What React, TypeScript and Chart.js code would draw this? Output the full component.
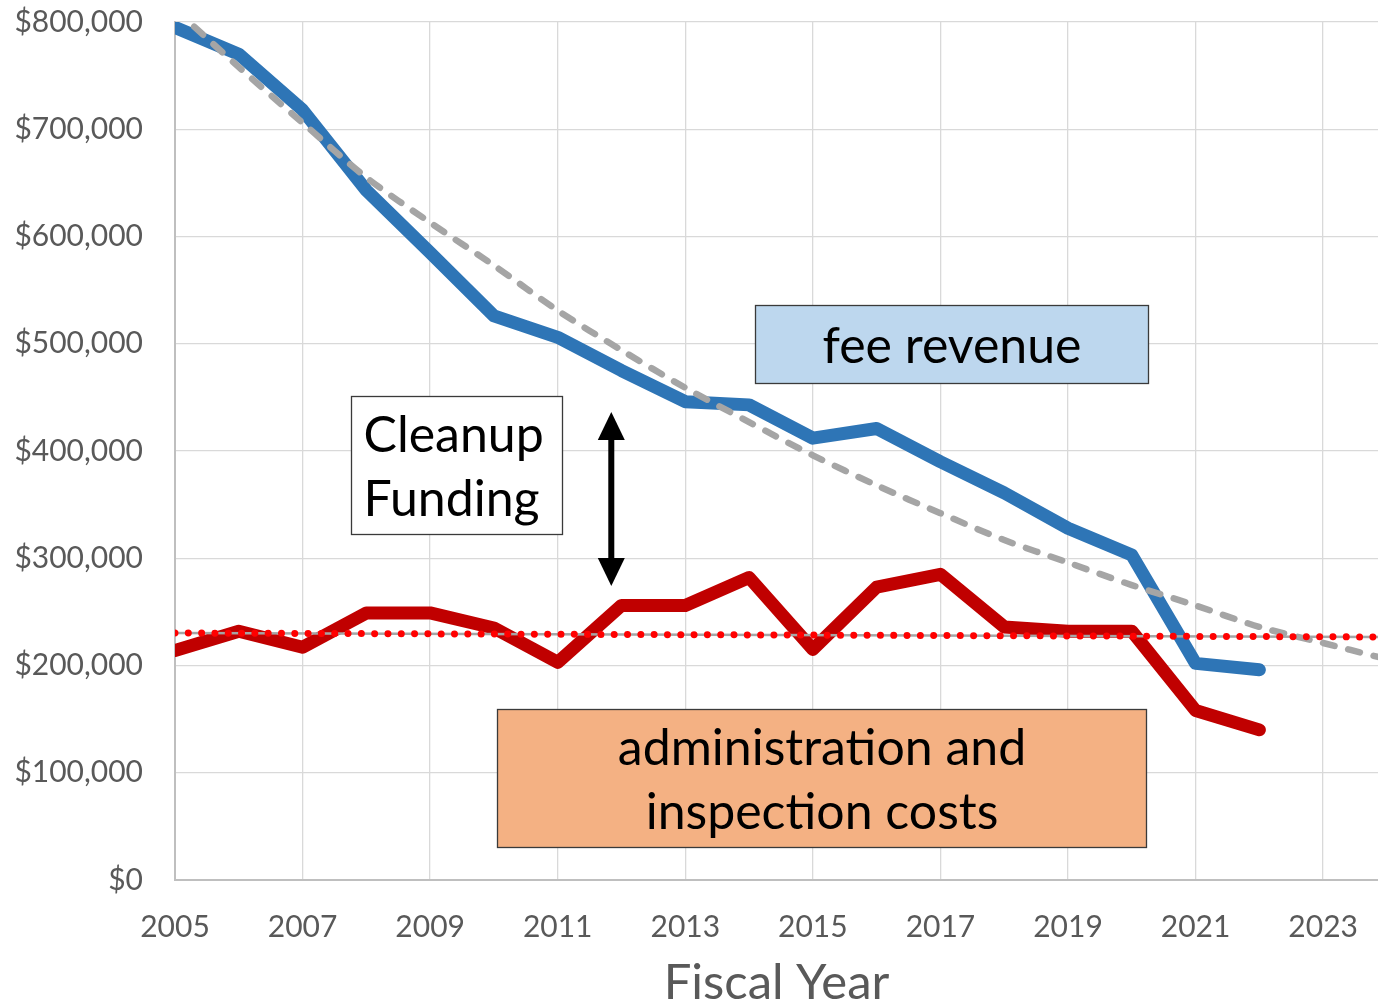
import React, { useEffect, useRef } from "react";
import { Chart, registerables } from "chart.js";

Chart.register(...registerables);

// ---- data ----
const years = [2005, 2006, 2007, 2008, 2009, 2010, 2011, 2012, 2013, 2014, 2015, 2016, 2017, 2018, 2019, 2020, 2021, 2022];
const feeRevenue = [795000, 770000, 718000, 643000, 585000, 526000, 506000, 475000, 446000, 443000, 412000, 421000, 390000, 361000, 328000, 303000, 202000, 196000];
const adminCosts = [214000, 232000, 217000, 249000, 249000, 235000, 203000, 256000, 256000, 282000, 215000, 273000, 285000, 236000, 232000, 232000, 158000, 140000];

const feeTrendYears = [2005, 2006, 2007, 2008, 2009, 2010, 2011, 2012, 2013, 2014, 2015, 2016, 2017, 2018, 2019, 2020, 2021, 2022, 2023, 2023.86];
const feeTrendValues = [812000, 758000, 706000, 655000, 613000, 573000, 531000, 494000, 459000, 427000, 396000, 368000, 342000, 317000, 296000, 275000, 256000, 236000, 221000, 208000];

const costTrendYears = [2005, 2023.86];
const costTrendValues = [230300, 226600];

const xTickValues = [2005, 2007, 2009, 2011, 2013, 2015, 2017, 2019, 2021, 2023];
const xMin = 2005;
const xMax = 2023.86;
const yMin = 0;
const yMax = 800000;
const yStep = 100000;

const xAxisTitle = "Fiscal Year";

// ---- annotations (data coordinates) ----
type Box = {
  x0: number; x1: number; y0: number; y1: number;
  fill: string; lines: string[]; align: "left" | "center";
};
const boxes: Box[] = [
  { x0: 2014.09, x1: 2020.26, y0: 536100, y1: 463400, fill: "#BDD7EE", lines: ["fee revenue"], align: "center" },
  { x0: 2007.76, x1: 2011.07, y0: 451300, y1: 322600, fill: "#FFFFFF", lines: ["Cleanup", "Funding"], align: "left" },
  { x0: 2010.05, x1: 2020.22, y0: 159400, y1: 30800, fill: "#F4B183", lines: ["administration and", "inspection costs"], align: "center" },
];
const arrow = { x: 2011.84, yTop: 436400, yBottom: 274100 };

const FONT = "Lato, 'Open Sans', sans-serif";

const annotationPlugin = {
  id: "annotations",
  afterDatasetsDraw(chart: any) {
    const { ctx, scales } = chart;
    const xs = scales.x;
    const ys = scales.y;
    ctx.save();
    for (const b of boxes) {
      const l = Math.round(xs.getPixelForValue(b.x0)) + 0.5;
      const r = Math.round(xs.getPixelForValue(b.x1)) + 0.5;
      const t = Math.round(ys.getPixelForValue(b.y0)) + 0.5;
      const bt = Math.round(ys.getPixelForValue(b.y1)) + 0.5;
      ctx.fillStyle = b.fill;
      ctx.fillRect(l, t, r - l, bt - t);
      ctx.strokeStyle = "#3A3A3A";
      ctx.lineWidth = 1.3;
      ctx.strokeRect(l, t, r - l, bt - t);
      ctx.fillStyle = "#000000";
      ctx.font = `50px ${FONT}`;
      ctx.textBaseline = "alphabetic";
      const cap = ctx.measureText("H").actualBoundingBoxAscent;
      const gap = 64;
      const cy = (t + bt) / 2;
      const n = b.lines.length;
      b.lines.forEach((line, i) => {
        const y = cy + (i - (n - 1) / 2) * gap + cap / 2;
        if (b.align === "center") {
          ctx.textAlign = "center";
          ctx.fillText(line, (l + r) / 2, y);
        } else {
          ctx.textAlign = "left";
          ctx.fillText(line, l + 12, y);
        }
      });
    }
    const ax = xs.getPixelForValue(arrow.x);
    const top = ys.getPixelForValue(arrow.yTop);
    const bot = ys.getPixelForValue(arrow.yBottom);
    const headW = 27;
    const headH = 28;
    ctx.fillStyle = "#000000";
    ctx.fillRect(ax - 3, top + headH - 2, 6, bot - top - 2 * headH + 4);
    ctx.beginPath();
    ctx.moveTo(ax, top);
    ctx.lineTo(ax + headW / 2, top + headH);
    ctx.lineTo(ax - headW / 2, top + headH);
    ctx.closePath();
    ctx.fill();
    ctx.beginPath();
    ctx.moveTo(ax, bot);
    ctx.lineTo(ax + headW / 2, bot - headH);
    ctx.lineTo(ax - headW / 2, bot - headH);
    ctx.closePath();
    ctx.fill();
    ctx.restore();
  },
};

export default function App() {
  const canvasRef = useRef<HTMLCanvasElement | null>(null);

  useEffect(() => {
    if (!canvasRef.current) return;
    const tickFont = { family: FONT, size: 30 };
    const chart = new Chart(canvasRef.current, {
      type: "line",
      data: {
        datasets: [
          {
            label: "cost average",
            data: costTrendYears.map((x, i) => ({ x, y: costTrendValues[i] })),
            borderColor: "#FF0000",
            borderWidth: 7,
            borderDash: [0.01, 13.3],
            borderCapStyle: "round",
            pointRadius: 0,
            clip: 0,
          },
          {
            label: "cost trend",
            data: costTrendYears.map((x, i) => ({ x, y: costTrendValues[i] })),
            borderColor: "#A5A5A5",
            borderWidth: 2.5,
            pointRadius: 0,
            clip: 0,
          },
          {
            label: "fee trend",
            data: feeTrendYears.map((x, i) => ({ x, y: feeTrendValues[i] })),
            borderColor: "#A5A5A5",
            borderWidth: 6.5,
            borderDash: [12, 14],
            borderCapStyle: "round",
            tension: 0.3,
            pointRadius: 0,
            clip: 0,
          },
          {
            label: "administration and inspection costs",
            data: years.map((x, i) => ({ x, y: adminCosts[i] })),
            borderColor: "#C00000",
            borderWidth: 13,
            borderCapStyle: "round",
            borderJoinStyle: "round",
            pointRadius: 0,
          },
          {
            label: "fee revenue",
            data: years.map((x, i) => ({ x, y: feeRevenue[i] })),
            borderColor: "#2E75B6",
            borderWidth: 13,
            borderCapStyle: "round",
            borderJoinStyle: "round",
            pointRadius: 0,
          },
        ],
      },
      options: {
        responsive: false,
        animation: false,
        devicePixelRatio: 1,
        layout: { padding: { top: 22, right: 0, left: 0, bottom: 0 } },
        plugins: { legend: { display: false }, tooltip: { enabled: false } },
        elements: { point: { radius: 0 } },
        scales: {
          x: {
            type: "linear",
            min: xMin,
            max: xMax,
            afterBuildTicks: (s: any) => {
              s.ticks = xTickValues.map((v) => ({ value: v }));
            },
            afterFit: (s: any) => {
              s.height = 125;
              s.paddingLeft = 0;
              s.paddingRight = 0;
            },
            grid: { color: "#D9D9D9", lineWidth: 1.3, drawTicks: false },
            border: { color: "#BFBFBF", width: 2 },
            ticks: {
              padding: 29,
              color: "#595959",
              font: tickFont,
              maxRotation: 0,
              autoSkip: false,
              callback: (v: any) => String(v),
            },
            title: {
              display: true,
              text: xAxisTitle,
              color: "#595959",
              font: { family: FONT, size: 49, lineHeight: 0.9 },
              padding: 0,
            },
          },
          y: {
            type: "linear",
            min: yMin,
            max: yMax,
            afterFit: (s: any) => {
              s.width = 175;
              s.paddingTop = 0;
              s.paddingBottom = 0;
            },
            grid: { color: "#D9D9D9", lineWidth: 1.3, drawTicks: false },
            border: { color: "#BFBFBF", width: 2 },
            ticks: {
              stepSize: yStep,
              padding: 32,
              color: "#595959",
              font: tickFont,
              callback: (v: any) => "$" + Number(v).toLocaleString("en-US"),
            },
          },
        },
      },
      plugins: [annotationPlugin],
    } as any);
    return () => chart.destroy();
  }, []);

  return (
    <div style={{ position: "absolute", left: 0, top: 0, width: 1378, height: 1005, background: "#FFFFFF" }}>
      <canvas ref={canvasRef} width={1378} height={1005} style={{ display: "block" }} />
    </div>
  );
}
